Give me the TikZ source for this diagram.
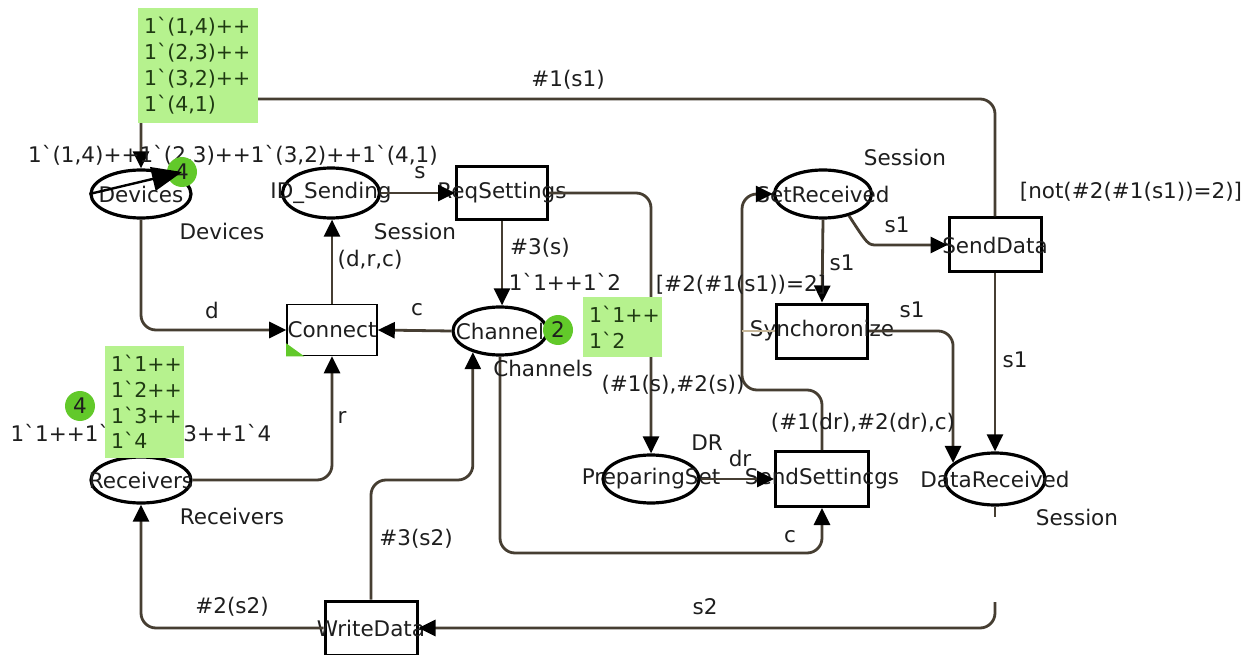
\documentclass[tikz,border=0pt]{standalone}
\usepackage{fontspec}
\usepackage{tikz}
\usetikzlibrary{arrows.meta,shapes.geometric}
\newfontfamily\cpnfont{DejaVu Sans}
\newcommand{\insc}{\cpnfont\fontsize{21.5}{25.6}\selectfont}
\newcommand{\mrk}{\cpnfont\fontsize{20.5}{25.8}\selectfont}
\definecolor{CPNArc}{HTML}{463E32}
\definecolor{CPNMark}{HTML}{B6F28E}
\definecolor{CPNMarkText}{HTML}{1F3A12}
\definecolor{CPNToken}{HTML}{62C92A}
\definecolor{CPNText}{HTML}{1E1E1E}
\definecolor{CPNFaint}{HTML}{C8B89A}

\begin{document}
\begin{tikzpicture}[x=1pt,y=-1pt,
  font=\insc,text=CPNText,
  place/.style={draw=black,line width=3.2pt,ellipse,minimum width=98pt,minimum height=48pt,inner sep=0pt},
  trans/.style={draw=black,line width=3pt,rectangle,minimum width=91pt,minimum height=53pt,inner sep=0pt},
  arc/.style={draw=CPNArc,line width=2.8pt,rounded corners=15pt,-{Triangle[length=17pt,width=16pt,color=black]}},
  arcline/.style={draw=CPNArc,line width=2.8pt},
  faint/.style={draw=CPNFaint,line width=1.2pt},
  markbox/.style={fill=CPNMark,font=\mrk,text=CPNMarkText,align=left,inner xsep=6pt,inner ysep=0pt},
  token/.style={circle,fill=CPNToken,minimum size=30pt,inner sep=0pt},
  cursor/.style={draw=black,line width=2.4pt,-{Triangle[length=30pt,width=24pt]}}
]
  \fill[white] (0,0) rectangle (1259,655);
  \useasboundingbox (0,0) rectangle (1259,655);

  % places
  \node[place,minimum width=100pt,label=center:Devices] (Devices) at (141,194) {};
  \node[place,minimum width=97pt,minimum height=50pt,label=center:ID\_Sending] (IDSending) at (331,193) {};
  \node[place,minimum width=94pt,label=center:Channel] (Channel) at (500,331) {};
  \node[place,minimum width=100pt,minimum height=46pt,label=center:Receivers] (Receivers) at (141,480) {};
  \node[place,minimum width=97pt,label=center:SetReceived] (SetReceived) at (823,194) {};
  \node[place,minimum width=96pt,label=center:PreparingSet] (PreparingSet) at (651,479) {};
  \node[place,minimum width=100pt,minimum height=52pt,label=center:DataReceived] (DataReceived) at (995,479) {};

  % transitions
  \node[trans,label=center:ReqSettings] (ReqSettings) at (502,193) {};
  \node[trans,line width=1.6pt,minimum width=90pt,minimum height=51pt,label=center:Connect] (Connect) at (332,330) {};
  \node[trans,minimum width=92pt,minimum height=54pt,label=center:SendData] (SendData) at (995,245) {};
  \node[trans,minimum height=54pt,label=center:Synchoronize] (Synchoronize) at (822,331) {};
  \node[trans,minimum width=93pt,minimum height=55pt,label=center:SendSettincgs] (SendSettings) at (822,479) {};
  \node[trans,minimum width=92pt,minimum height=54pt,label=center:WriteData] (WriteData) at (371,628) {};
  \fill[CPNToken] (Connect.south west) -- ++(0,-13) -- ++(18,13) -- cycle;

  \coordinate (rowTop) at (0,99);
  \coordinate (rowBack) at (0,480);
  \coordinate (rowLow) at (0,553);
  \coordinate (syncBend) at (742,390);
  \coordinate (syncIn) at (742,331);
  \coordinate (drStub) at (995,517);
  \coordinate (drGap) at (995,602);

  % arcs
  \draw[arc] (SendData.north) |- (Devices.north |- rowTop) -- (Devices.north);
  \draw[arc] (IDSending.east) -- (ReqSettings.west);
  \draw[arc] (ReqSettings.south) -- (ReqSettings.south |- Channel.north);
  \draw[arc] (ReqSettings.east) -| (PreparingSet.north);
  \draw[arc] (Channel.west) -- (Connect.east);
  \draw[arc] (Devices.south) |- (Connect.west);
  \draw[arc] (Connect.north) -- (Connect.north |- IDSending.south);
  \draw[arc] (Receivers.east) -| (Connect.south);
  \draw[arc] (WriteData.west) -| (Receivers.south);
  \draw[arc] (WriteData.north) |- (Channel.218 |- rowBack) -- (Channel.218);
  \draw[arc] (Channel.south) |- (SendSettings.south |- rowLow) -- (SendSettings.south);
  \draw[arc] (PreparingSet.east) -- (SendSettings.west);
  \draw[arc] (SendSettings.north) |- (syncBend) |- (SetReceived.west);
  \draw[arc] (SetReceived.south) -- (Synchoronize.north);
  \draw[arc] (SetReceived.-40) .. controls (868,245) .. (892,245) -- (SendData.west);
  \draw[arc] (Synchoronize.east) -| (DataReceived.159);
  \draw[arc] (SendData.south) -- (DataReceived.north);
  \draw[arcline] (DataReceived.south) -- (drStub);
  \draw[arc] (drGap) |- (WriteData.east);
  \draw[faint] (syncIn) -- (Synchoronize.west);

  % inscriptions
  \node (lTop) at (568,80) {\#1(s1)};
  \node (mDevices) at (233,155) {1`(1,4)++1`(2,3)++1`(3,2)++1`(4,1)};
  \node (tDevices) at (222,231) {Devices};
  \node (tIDSending) at (415,231) {Session};
  \node (lS) at (420,173) {s};
  \node (l3s) at (540,248) {\#3(s)};
  \node (mChannel) at (565,282) {1`1++1`2};
  \node (tChannel) at (543,368) {Channels};
  \node (lC1) at (417,310) {c};
  \node (lD) at (212,310) {d};
  \node (lDRC) at (370,260) {(d,r,c)};
  \node (lR) at (342,417) {r};
  \node (mReceivers) at (141,433) {1`1++1`2++1`3++1`4};
  \node (tReceivers) at (232,516) {Receivers};
  \node (l2s2) at (232,607) {\#2(s2)};
  \node (l3s2) at (416,539) {\#3(s2)};
  \node (lS2) at (705,607) {s2};
  \node (lC2) at (790,537) {c};
  \node (lPrepIn) at (673,385) {(\#1(s),\#2(s))};
  \node (gSync) at (741,285) {[\#2(\#1(s1))=2]};
  \node (tPrep) at (707,443) {DR};
  \node (lDr) at (740,458) {dr};
  \node (lBack) at (863,423) {(\#1(dr),\#2(dr),c)};
  \node (tSetRec) at (905,157) {Session};
  \node (lS1a) at (842,263) {s1};
  \node (lS1b) at (897,225) {s1};
  \node (gSend) at (1131,192) {[not(\#2(\#1(s1))=2)]};
  \node (lS1c) at (912,310) {s1};
  \node (lS1d) at (1015,360) {s1};
  \node (tDataRec) at (1077,517) {Session};

  % current markings
  \node[markbox,minimum width=120pt,minimum height=115pt,text width=108pt] (bDevices) at (198,65.5) {1`(1,4)++\\1`(2,3)++\\1`(3,2)++\\1`(4,1)};
  \node[markbox,minimum width=79pt,minimum height=60pt,text width=67pt] (bChannel) at (622.5,327) {1`1++\\1`2};
  \node[markbox,minimum width=79pt,minimum height=112pt,text width=67pt] (bReceivers) at (144.5,402) {1`1++\\1`2++\\1`3++\\1`4};
  \node[token] (DevTok) at (182,172) {4};
  \node[token] (ChanTok) at (558,330) {2};
  \node[token] (RecTok) at (80,406) {4};
  \draw[cursor] (Devices.west) -- (DevTok.center);
\end{tikzpicture}
\end{document}
